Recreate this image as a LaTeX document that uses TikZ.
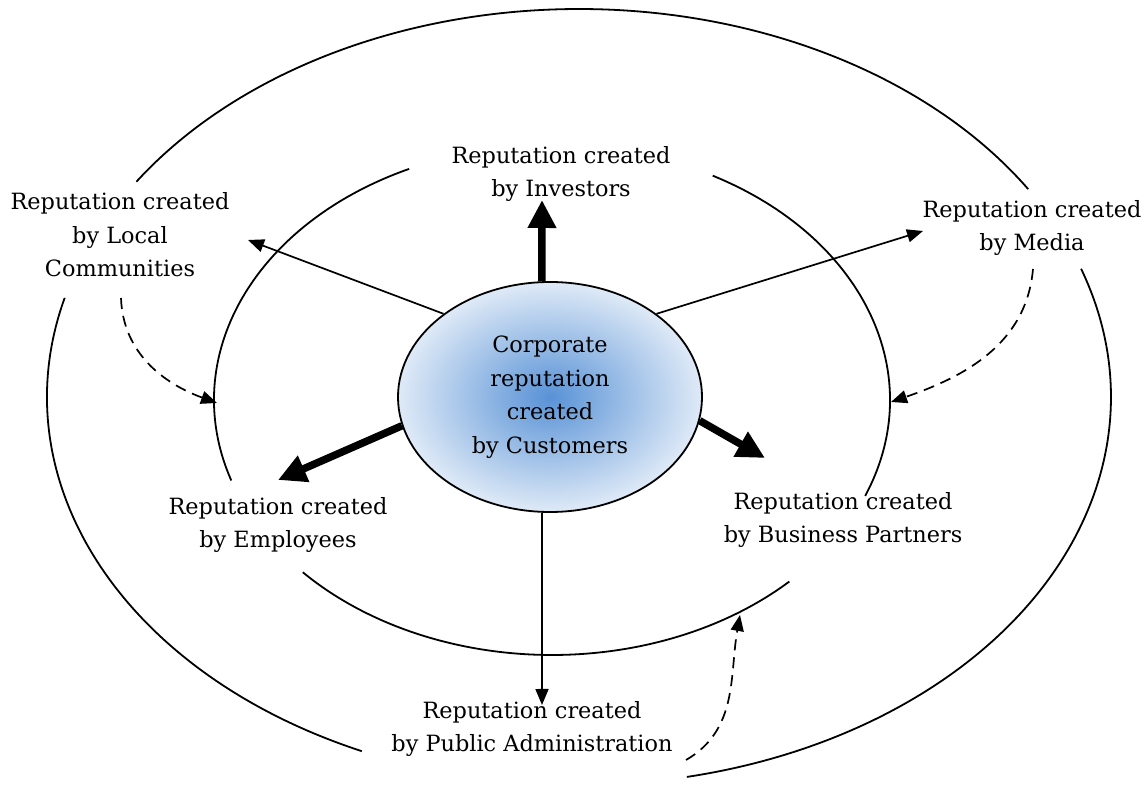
\documentclass[tikz,border=0pt]{standalone}
\usepackage{fontspec}
\setmainfont{DejaVu Serif}
\usetikzlibrary{arrows.meta,shapes.geometric}
\definecolor{corpblue}{RGB}{88,146,214}
\definecolor{corplight}{RGB}{223,234,247}

\begin{document}
\begin{tikzpicture}[x=1pt, y=1pt]
	\tikzstyle{every node} = [align=center, inner sep=0pt, font=\fontsize{22.4}{33.5}\selectfont]
	\tikzstyle{ring} = [line width=1.8pt]
	\tikzstyle{corp} = [ellipse, draw, line width=1.8pt, minimum width=304pt, minimum height=230pt, inner color=corpblue, outer color=corplight]
	\tikzstyle{link} = [-{Triangle[length=16pt, width=13pt]}, line width=1.7pt]
	\tikzstyle{bigarrow} = [-{Triangle[length=28pt, width=27pt]}, line width=7.5pt]
	\tikzstyle{feedback} = [-{Triangle[length=16pt, width=13pt]}, line width=1.7pt, dash pattern=on 11pt off 7pt]
	\useasboundingbox (0,0) rectangle (1146,787);
	% outer ring
	\draw[ring] (579,390) ++(32.4:532pt and 388pt) arc[start angle=32.4, end angle=146.3, x radius=532pt, y radius=388pt];
	\draw[ring] (579,390) ++(165.2:532pt and 388pt) arc[start angle=165.2, end angle=245.9, x radius=532pt, y radius=388pt];
	\draw[ring] (579,390) ++(-78.3:532pt and 388pt) arc[start angle=-78.3, end angle=19.3, x radius=532pt, y radius=388pt];
	% inner ring
	\draw[ring] (552,387) ++(115:338pt and 255pt) arc[start angle=115, end angle=198.4, x radius=338pt, y radius=255pt];
	\draw[ring] (552,387) ++(222.5:338pt and 255pt) arc[start angle=222.5, end angle=314.6, x radius=338pt, y radius=255pt];
	\draw[ring] (552,387) ++(-22.1:338pt and 255pt) arc[start angle=-22.1, end angle=61.6, x radius=338pt, y radius=255pt];
	\node (inv) at (561, 613) {Reputation created\\by Investors};
	\node (local) at (120, 552) {Reputation created\\by Local\\Communities};
	\node (media) at (1032, 559) {Reputation created\\by Media};
	\node[corp] (corp) at (550, 390) {Corporate\\reputation\\created\\by Customers};
	\node (empl) at (278, 262) {Reputation created\\by Employees};
	\node (bp) at (843, 267) {Reputation created\\by Business Partners};
	\node (pub) at (532, 58) {Reputation created\\by Public Administration};
	\coordinate (invtip) at (542, 587);
	\coordinate (localtip) at (248, 547);
	\coordinate (mediatip) at (923, 556);
	\coordinate (empltip) at (278, 307);
	\coordinate (bptip) at (765, 329);
	\coordinate (pubtip) at (542, 82);
	\coordinate (localfrom) at (121, 489);
	\coordinate (localto) at (217, 384);
	\coordinate (mediafrom) at (1033, 518);
	\coordinate (mediato) at (891, 385);
	\coordinate (pubfrom) at (686, 27);
	\coordinate (pubto) at (740, 172);
	\draw [bigarrow] (corp.94)--(invtip);
	\draw [bigarrow] (corp.191)--(empltip);
	\draw [bigarrow] (corp.351)--(bptip);
	\draw [link] (corp.142)--(localtip);
	\draw [link] (corp.38)--(mediatip);
	\draw [link] (corp.266)--(pubtip);
	\draw [feedback] (localfrom) to[out=-88, in=160] (localto);
	\draw [feedback] (mediafrom) to[out=-95, in=19] (mediato);
	\draw [feedback] (pubfrom) to[out=30, in=-100] (pubto);
\end{tikzpicture}
\end{document}
